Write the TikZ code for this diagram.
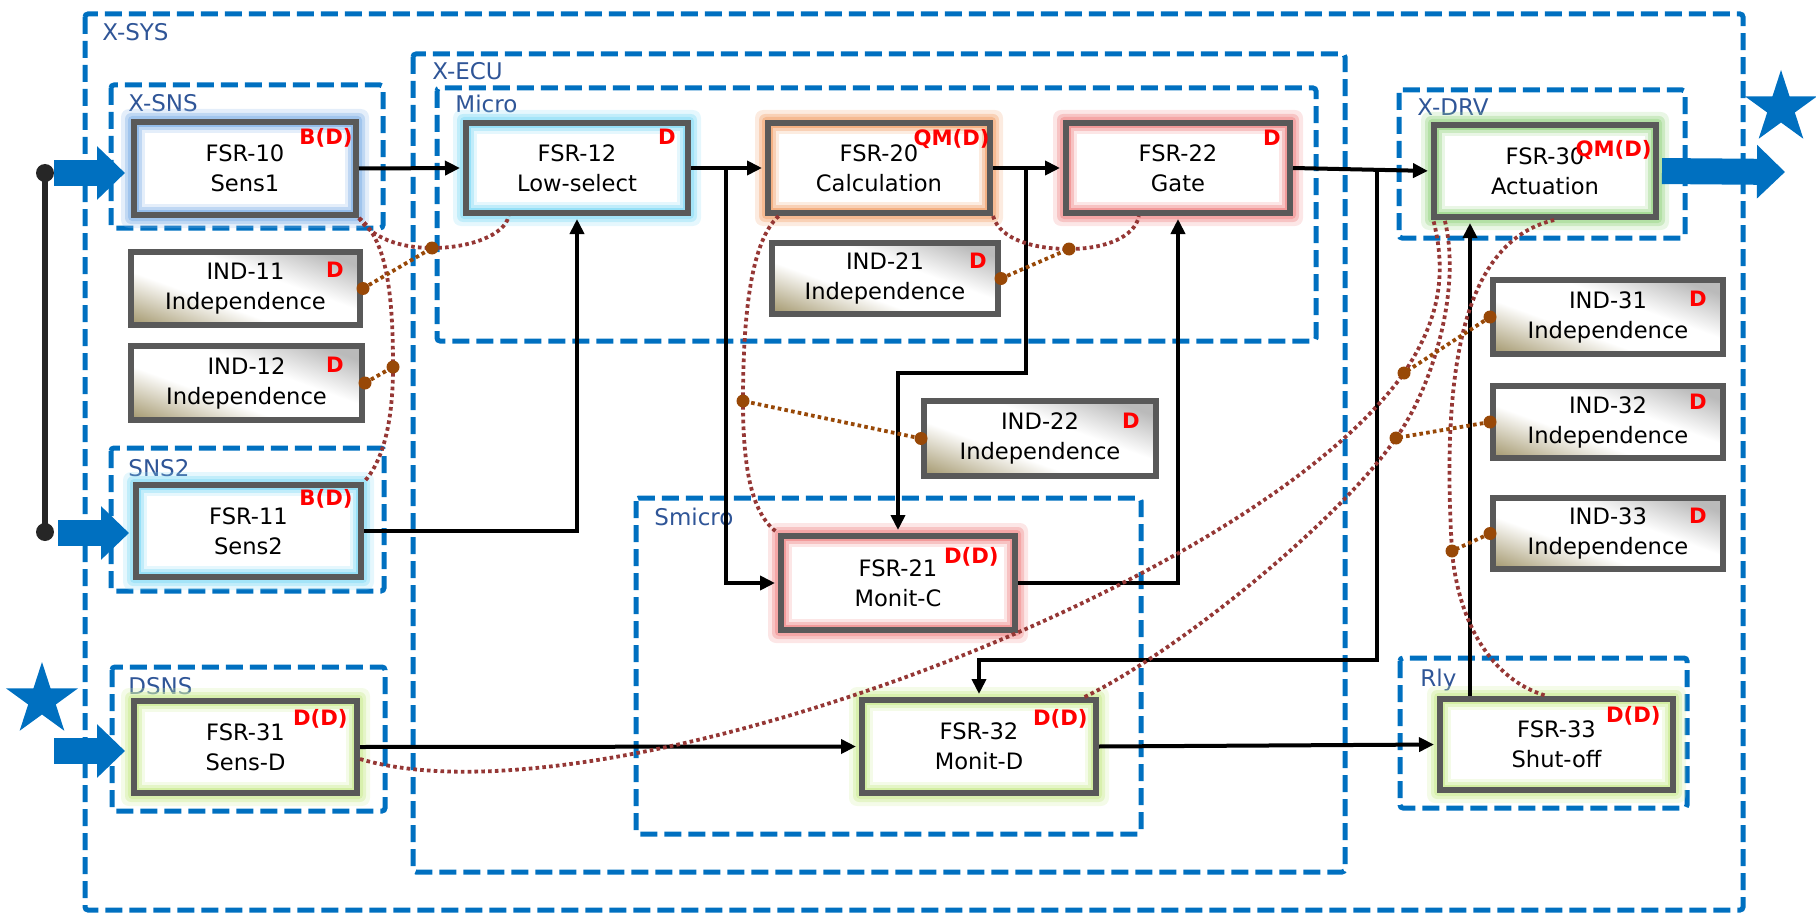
\documentclass[tikz,border=0pt]{standalone}
\usepackage{fontspec}
\setmainfont{DejaVu Sans}
\usetikzlibrary{arrows.meta,shapes.geometric,calc}
\definecolor{dashblue}{HTML}{0070C0}
\definecolor{lblblue}{HTML}{2F5597}
\definecolor{boxgray}{HTML}{595959}
\definecolor{linkred}{HTML}{953735}
\definecolor{brownc}{HTML}{984807}
\definecolor{ratered}{HTML}{FF0000}
\definecolor{gBlue}{HTML}{94BDEB}
\definecolor{gCyan}{HTML}{96E0F7}
\definecolor{gOrange}{HTML}{F4B183}
\definecolor{gRed}{HTML}{F29A9A}
\definecolor{gGreen}{HTML}{A8DC98}
\definecolor{gLime}{HTML}{D3EEA2}
\definecolor{indTan}{HTML}{AA9F78}
\definecolor{indGray}{HTML}{BABABA}
\definecolor{kdark}{HTML}{262626}
\pgfdeclareverticalshading{indshade}{100bp}{color(0bp)=(indTan); color(20bp)=(indTan); color(40bp)=(white); color(58bp)=(white); color(76bp)=(indGray); color(100bp)=(indGray)}
\newcommand\glowbox[5]{%
  \fill[#5, opacity=.25, rounded corners=4pt] ({#1-10},{#2-10}) rectangle ({#3+10},{#4+10});
  \fill[#5, opacity=.45, rounded corners=3pt] ({#1-6},{#2-6}) rectangle ({#3+6},{#4+6});
  \fill[#5, opacity=.7, rounded corners=2pt] ({#1-3},{#2-3}) rectangle ({#3+3},{#4+3});
  \fill[#5] (#1,#2) rectangle (#3,#4);
  \fill[#5!60!white] ({#1+8},{#2+8}) rectangle ({#3-8},{#4-8});
  \fill[#5!25!white] ({#1+11},{#2+11}) rectangle ({#3-11},{#4-11});
  \fill[white] ({#1+14},{#2+14}) rectangle ({#3-14},{#4-14});
}
\newcommand\fsrnode[7]{%
  \glowbox{#2}{#3}{#4}{#5}{#6}
  \node[fsr, minimum width={(#4-#2-6)*0.5pt}, minimum height={(#5-#3-6)*0.5pt}] (#1) at ({(#2+#4)/2},{(#3+#5)/2}) {#7};
}
\newcommand\indnode[6]{%
  \node[ind, minimum width={(#4-#2-6)*0.5pt}, minimum height={(#5-#3-6)*0.5pt}] (#1) at ({(#2+#4)/2},{(#3+#5)/2}) {#6};
}
\begin{document}
\begin{tikzpicture}[x=0.5pt, y=-0.5pt, font=\fontsize{11.3}{15}\selectfont,
  frame/.style={draw=dashblue, line width=2.5pt, dash pattern=on 8.5pt off 3.5pt, rounded corners=1.5pt},
  flabel/.style={anchor=base west, text=lblblue, inner sep=0pt, font=\fontsize{11.5}{13}\selectfont},
  fsr/.style={draw=boxgray, line width=3pt, align=center, inner sep=0pt},
  ind/.style={draw=boxgray, line width=3pt, align=center, inner sep=0pt, shading=indshade, shading angle=-20},
  rating/.style={anchor=base east, text=ratered, inner sep=0pt, font=\bfseries\fontsize{10.6}{13}\selectfont},
  conn/.style={draw=black, line width=2pt, shorten >=1.5pt, -{Triangle[length=7.5pt,width=7pt]}},
  link/.style={draw=linkred, line width=1.9pt, dash pattern=on 1.8pt off 1.6pt},
  blink/.style={draw=brownc, line width=1.9pt, dash pattern=on 1.8pt off 1.6pt},
  bdot/.style={circle, fill=brownc, inner sep=0pt, minimum size=6.5pt},
  kdot/.style={circle, fill=kdark, inner sep=0pt, minimum size=9pt},
  bigarrow/.style={draw=dashblue, line width=13pt, -{Triangle[length=14pt,width=26pt]}},
  starshape/.style={star, star points=5, star point ratio=2.618, fill=dashblue, draw=none, inner sep=0pt, minimum size=38pt}]
\useasboundingbox (0,0) rectangle (1816,915);

% frames
\draw[frame] (85,14) rectangle (1743,910);
\node[flabel] (lsys) at (102,41) {X-SYS};
\draw[frame] (111,85) rectangle (383,228);
\node[flabel] (lsns) at (128,112) {X-SNS};
\draw[frame] (111,448) rectangle (384,591);
\node[flabel] (lsns2) at (128,476) {SNS2};
\draw[frame] (112,667) rectangle (385,811);
\node[flabel] (ldsns) at (128,694) {DSNS};
\draw[frame] (413,54) rectangle (1345,872);
\node[flabel] (lecu) at (432,80) {X-ECU};
\draw[frame] (437,88) rectangle (1316,341);
\node[flabel] (lmicro) at (455,113) {Micro};
\draw[frame] (636,498) rectangle (1141,834);
\node[flabel] (lsmicro) at (654,525) {Smicro};
\draw[frame] (1399,90) rectangle (1685,238);
\node[flabel] (ldrv) at (1417,116) {X-DRV};
\draw[frame] (1400,658) rectangle (1687,808);
\node[flabel] (lrly) at (1420,686) {Rly};

% FSR boxes
\fsrnode{f10}{131}{119}{359}{218}{gBlue}{FSR-10\\Sens1}
\fsrnode{f11}{133}{482}{364}{580}{gCyan}{FSR-11\\Sens2}
\fsrnode{f12}{463}{120}{691}{216}{gCyan}{FSR-12\\Low-select}
\fsrnode{f20}{765}{120}{993}{216}{gOrange}{FSR-20\\Calculation}
\fsrnode{f22}{1063}{120}{1293}{216}{gRed}{FSR-22\\Gate}
\fsrnode{f21}{778}{533}{1018}{633}{gRed}{FSR-21\\Monit-C}
\fsrnode{f30}{1431}{122}{1659}{220}{gGreen}{FSR-30\\Actuation}
\fsrnode{f31}{131}{698}{360}{796}{gLime}{FSR-31\\Sens-D}
\fsrnode{f32}{859}{697}{1099}{796}{gLime}{FSR-32\\Monit-D}
\fsrnode{f33}{1437}{696}{1676}{793}{gLime}{FSR-33\\Shut-off}

% IND boxes
\indnode{i11}{128}{249}{363}{328}{IND-11\\Independence}
\indnode{i12}{128}{343}{365}{423}{IND-12\\Independence}
\indnode{i21}{769}{240}{1001}{317}{IND-21\\Independence}
\indnode{i22}{921}{398}{1159}{479}{IND-22\\Independence}
\indnode{i31}{1490}{277}{1726}{357}{IND-31\\Independence}
\indnode{i32}{1490}{383}{1726}{461}{IND-32\\Independence}
\indnode{i33}{1490}{495}{1726}{572}{IND-33\\Independence}

% left power line
\node[kdot] (p1) at (45,173) {};
\node[kdot] (p2) at (45,532) {};
\draw[kdark, line width=3pt] (p1.center) -- (p2.center);

% big blue arrows
\coordinate (in1) at (54,173);
\coordinate (in2) at (58,533);
\coordinate (in3) at (54,751);
\coordinate (out1) at (1785,172);
\draw[bigarrow, shorten >=3pt] (in1) -- (in1 -| f10.west);
\draw[bigarrow, shorten >=2pt] (in2) -- (in2 -| f11.west);
\draw[bigarrow, shorten >=3pt] (in3) -- (in3 -| f31.west);
\draw[bigarrow, shorten <=1.5pt] (f30.east) -- (out1);
\node[starshape] (s1) at (1781,108) {};
\node[starshape] (s2) at (42,700) {};

% black connectors
\coordinate (b1) at (726,168);
\coordinate (b2) at (1026,168);
\coordinate (k2) at (1026,373);
\coordinate (b3) at (1377,170);
\coordinate (k3) at (1377,660);
\coordinate (x4) at (1470,0);
\draw[conn] (f10.east) -- (f12.west);
\draw[conn] (f11.east) -| (f12.south);
\draw[conn] (f12.east) -- (f20.west);
\draw[conn] (b1) |- (f21.west);
\draw[conn] (f20.east) -- (f22.west);
\draw[conn] (b2) -- (k2) -| (f21.north);
\draw[conn] (f21.east) -| (f22.south);
\draw[conn] (f22.east) -- (f30.west);
\draw[conn] (b3) -- (k3) -| (f32.north);
\draw[conn] (f31.east) -- (f32.west);
\draw[conn] (f32.east) -- (f33.west);
\draw[conn] (f33.north -| x4) -- (f30.south -| x4);

% junctions
\coordinate (j11) at (432,248);
\coordinate (j12) at (393,367);
\coordinate (j22) at (743,401);
\coordinate (j21) at (1069,249);
\coordinate (j31) at (1404,373);
\coordinate (j32) at (1396,438);
\coordinate (j33) at (1452,551);

% dependency links
\draw[link] (f10.south east) .. controls (372,238) and (400,248) .. (j11) .. controls (470,248) and (505,235) .. ($(f12.south west)!.2!(f12.south east)$);
\draw[link] (f10.south east) .. controls (388,240) and (393,300) .. (j12) .. controls (393,425) and (382,462) .. (f11.north east);
\draw[link] ($(f20.south west)!.06!(f20.south east)$) .. controls (752,240) and (743,310) .. (j22) .. controls (743,470) and (752,515) .. (f21.north west);
\draw[link] (f20.south east) .. controls (1000,240) and (1035,249) .. (j21) .. controls (1105,249) and (1135,237) .. ($(f22.south west)!.33!(f22.south east)$);
\draw[link] ([yshift=-6pt]f31.east) .. controls (600,830) and (1250,590) .. (j31) .. controls (1432,330) and (1450,285) .. ($(f30.south west)!.01!(f30.south east)$);
\draw[link] ($(f32.north west)!.94!(f32.north east)$) .. controls (1180,650) and (1340,520) .. (j32) .. controls (1432,388) and (1462,290) .. ($(f30.south west)!.06!(f30.south east)$);
\draw[link] ($(f30.south west)!.54!(f30.south east)$) .. controls (1470,240) and (1440,350) .. (j33) .. controls (1458,620) and (1490,680) .. ($(f33.north west)!.46!(f33.north east)$);

\draw[blink] (i11.east) -- (j11);
\draw[blink] (i12.east) -- (j12);
\draw[blink] (i21.east) -- (j21);
\draw[blink] (i22.west) -- (j22);
\draw[blink] (i31.west) -- (j31);
\draw[blink] (i32.west) -- (j32);
\draw[blink] (i33.west) -- (j33);
\foreach \n/\p in {d11/j11, d12/j12, d22/j22, d21/j21, d31/j31, d32/j32, d33/j33, e11/i11.east, e12/i12.east, e21/i21.east, e22/i22.west, e31/i31.west, e32/i32.west, e33/i33.west}
  \node[bdot] (\n) at (\p) {};

% ratings
\node[rating] (r10) at (353,145) {B(D)};
\node[rating] (r11) at (353,505) {B(D)};
\node[rating] (r12) at (676,145) {D};
\node[rating] (r20) at (990,146) {QM(D)};
\node[rating] (r22) at (1281,146) {D};
\node[rating] (r21) at (999,563) {D(D)};
\node[rating] (r30) at (1652,156) {QM(D)};
\node[rating] (r31) at (348,725) {D(D)};
\node[rating] (r32) at (1088,725) {D(D)};
\node[rating] (r33) at (1661,722) {D(D)};
\node[rating] (ri11) at (344,277) {D};
\node[rating] (ri12) at (344,372) {D};
\node[rating] (ri21) at (987,268) {D};
\node[rating] (ri22) at (1140,428) {D};
\node[rating] (ri31) at (1707,306) {D};
\node[rating] (ri32) at (1707,409) {D};
\node[rating] (ri33) at (1707,523) {D};
\end{tikzpicture}
\end{document}
